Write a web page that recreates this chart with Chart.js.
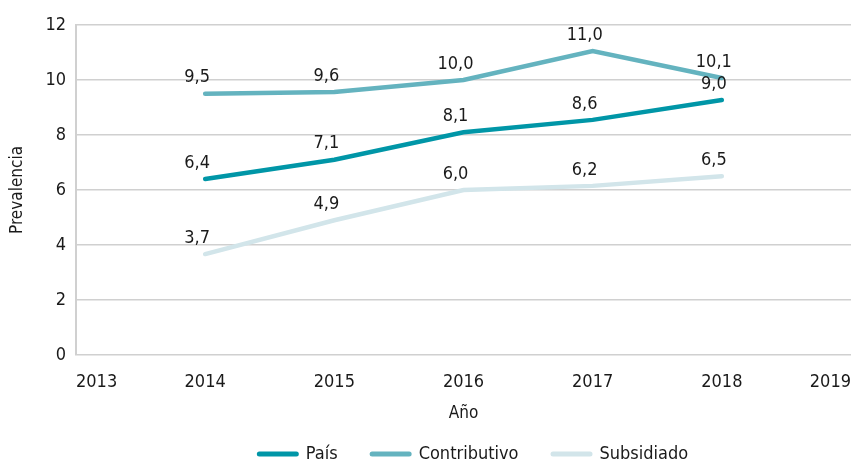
<!DOCTYPE html>
<html><head><meta charset="utf-8">
<script src="https://cdn.jsdelivr.net/npm/chart.js@4/dist/chart.umd.min.js"></script>
<style>html,body{margin:0;padding:0;background:#fff}#wrap{width:860px;height:461px}</style>
</head><body><div id="wrap"><canvas id="c" width="860" height="461"></canvas></div>
<script>
const years = [2014, 2015, 2016, 2017, 2018];
const pais = [6.4, 7.1, 8.1, 8.55, 9.27];
const contributivo = [9.5, 9.56, 10.0, 11.05, 10.07];
const subsidiado = [3.67, 4.9, 6.0, 6.15, 6.5];
const paisLabels = ["6,4", "7,1", "8,1", "8,6", "9,0"];
const contributivoLabels = ["9,5", "9,6", "10,0", "11,0", "10,1"];
const subsidiadoLabels = ["3,7", "4,9", "6,0", "6,2", "6,5"];
const yTicks = [0, 2, 4, 6, 8, 10, 12];

const FONT = "'DejaVu Sans Condensed', 'Liberation Sans Narrow', sans-serif";
const toPts = (vals) => vals.map((v, i) => ({x: years[i], y: v}));

const labelPlugin = {
  id: 'labels',
  afterDatasetsDraw(chart) {
    const ctx = chart.ctx;
    ctx.save();
    ctx.font = "18px " + FONT;
    ctx.fillStyle = '#1a1a1a';
    ctx.textAlign = 'center';
    ctx.textBaseline = 'middle';
    chart.data.datasets.forEach((ds, di) => {
      const meta = chart.getDatasetMeta(di);
      meta.data.forEach((pt, i) => {
        ctx.fillText(ds.valueLabels[i], pt.x - 8, pt.y - 16);
      });
    });
    ctx.restore();
  }
};

const legendPlugin = {
  id: 'customLegend',
  afterDraw(chart) {
    const ctx = chart.ctx;
    ctx.save();
    ctx.font = "18px " + FONT;
    const sample = 42, gapText = 7, gapItem = 32;
    const items = chart.data.datasets.map(ds => ({label: ds.label, color: ds.borderColor, w: ctx.measureText(ds.label).width}));
    const total = items.reduce((s, it) => s + sample + gapText + it.w, 0) + gapItem * (items.length - 1);
    const ca = chart.chartArea;
    let x = (ca.left + ca.right) / 2 + 9 - total / 2;
    const y = 454;
    items.forEach(it => {
      ctx.strokeStyle = it.color;
      ctx.lineWidth = 5;
      ctx.lineCap = 'round';
      ctx.beginPath();
      ctx.moveTo(x + 2.5, y);
      ctx.lineTo(x + sample - 2.5, y);
      ctx.stroke();
      ctx.fillStyle = '#1a1a1a';
      ctx.textAlign = 'left';
      ctx.textBaseline = 'middle';
      ctx.fillText(it.label, x + sample + gapText, y);
      x += sample + gapText + it.w + gapItem;
    });
    ctx.restore();
  }
};

new Chart(document.getElementById('c'), {
  type: 'line',
  data: {
    datasets: [
      {label: 'País', data: toPts(pais), valueLabels: paisLabels, borderColor: '#0096a7', backgroundColor: '#0096a7', borderWidth: 4.5, pointRadius: 0, borderCapStyle: 'round', tension: 0},
      {label: 'Contributivo', data: toPts(contributivo), valueLabels: contributivoLabels, borderColor: '#64b3bf', backgroundColor: '#64b3bf', borderWidth: 4.5, pointRadius: 0, borderCapStyle: 'round', tension: 0},
      {label: 'Subsidiado', data: toPts(subsidiado), valueLabels: subsidiadoLabels, borderColor: '#d2e5ea', backgroundColor: '#d2e5ea', borderWidth: 4.5, pointRadius: 0, borderCapStyle: 'round', tension: 0}
    ]
  },
  options: {
    responsive: false,
    animation: false,
    layout: {padding: {left: 7, right: -8, top: 25, bottom: 37}},
    plugins: {
      tooltip: {enabled: false},
      legend: {display: false}
    },
    scales: {
      x: {
        type: 'linear',
        min: 2013, max: 2019,
        grid: {display: false},
        border: {display: false},
        ticks: {stepSize: 1, align: 'inner', color: '#1a1a1a', font: {size: 18, family: FONT}, padding: 9, callback: v => String(v)},
        title: {display: true, text: 'Año', color: '#1a1a1a', font: {size: 17, family: FONT}, padding: {top: 1, bottom: 0}}
      },
      y: {
        min: 0, max: 12,
        afterBuildTicks: (s) => { s.ticks = yTicks.map(v => ({value: v})); },
        grid: {color: '#d0d0d0', lineWidth: 1.5, drawTicks: false},
        border: {display: true, color: '#d0d0d0', width: 2},
        ticks: {color: '#1a1a1a', font: {size: 18, family: FONT}, padding: 10},
        title: {display: true, text: 'Prevalencia', color: '#1a1a1a', font: {size: 17, family: FONT}, padding: {top: 0, bottom: 8}}
      }
    }
  },
  plugins: [labelPlugin, legendPlugin]
});
</script></body></html>
